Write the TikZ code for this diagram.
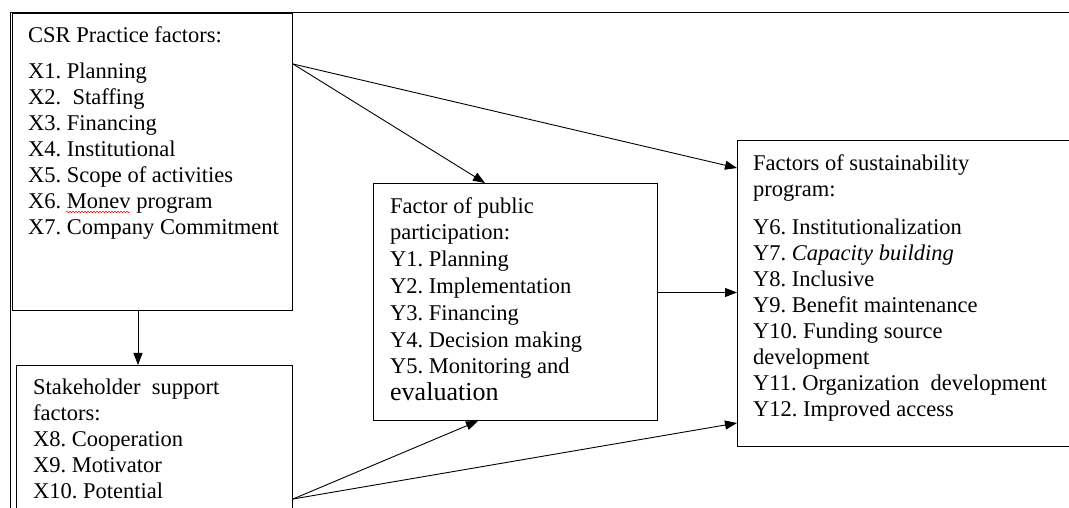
\documentclass[tikz,border=0pt]{standalone}
\usepackage{fontspec}
\setmainfont{Liberation Serif}
\usetikzlibrary{arrows.meta,decorations.pathmorphing}
\frenchspacing

\begin{document}
\begin{tikzpicture}[x=1pt,y=1pt,
  box/.style={draw=black,line width=1pt,inner sep=0pt,anchor=north west},
  txt/.style={anchor=north west,inner sep=0pt,align=left,
    font=\fontsize{22.5}{26}\selectfont},
  link/.style={draw=black,line width=0.9pt,-{Triangle[length=12pt,width=9pt]}}]

\useasboundingbox (0,0) rectangle (1069,508);

% frame
\path[draw=black,line width=1pt] (1069,495) -- (10,495) -- (10,-5);

%csr
\node[box,minimum width=280pt,minimum height=297pt] (csr) at (12,495) {};
\node[txt] (csrtxt) at (28,482) {CSR Practice factors:\\[10pt]
  X1. Planning\\ X2.\ \ Staffing\\ X3. Financing\\ X4. Institutional\\
  X5. Scope of activities\\ X6. Monev program\\ X7. Company Commitment};
\draw[red,line width=0.5pt,decorate,
  decoration={snake,amplitude=0.8pt,segment length=3pt}] (66,296) -- (130,296);

%stake
\node[box,minimum width=276pt,minimum height=153pt] (stake) at (16,143) {};
\node[txt] (staketxt) at (33,129) {Stakeholder\ \ support\\ factors:\\
  X8. Cooperation\\ X9. Motivator\\ X10. Potential};

%part
\node[box,minimum width=284pt,minimum height=237pt] (part) at (373,325) {};
\node[txt,font=\fontsize{22.5}{26.8}\selectfont] (parttxt) at (390,311)
  {Factor of public\\ participation:\\ Y1. Planning\\ Y2. Implementation\\
  Y3. Financing\\ Y4. Decision making\\ Y5. Monitoring and\\
  {\fontsize{26}{26}\selectfont evaluation}};

%sust
\node[box,minimum width=340pt,minimum height=306pt] (sust) at (737,368) {};
\node[txt] (susttxt) at (753,354) {Factors of sustainability\\ program:\\[12pt]
  Y6. Institutionalization\\ Y7. \textit{Capacity building}\\ Y8. Inclusive\\
  Y9. Benefit maintenance\\ Y10. Funding source\\ development\\
  Y11. Organization\ \ development\\ Y12. Improved access};

% links
\coordinate (csrout) at ([yshift=-51pt]csr.north east);
\coordinate (stakeout) at ([yshift=-134pt]stake.north east);
\path[link] ([xshift=126pt]csr.south west) -- ([xshift=122pt]stake.north west);
\path[link] (csrout) -- ([xshift=112pt]part.north west);
\path[link] (csrout) -- ([yshift=-28pt]sust.north west);
\path[link] ([yshift=9.5pt]part.east) -- ([yshift=9.5pt]sust.west |- part.east);
\path[link] (stakeout) -- ([xshift=105pt]part.south west);
\path[link] (stakeout) -- ([yshift=24pt]sust.south west);

\end{tikzpicture}
\end{document}
